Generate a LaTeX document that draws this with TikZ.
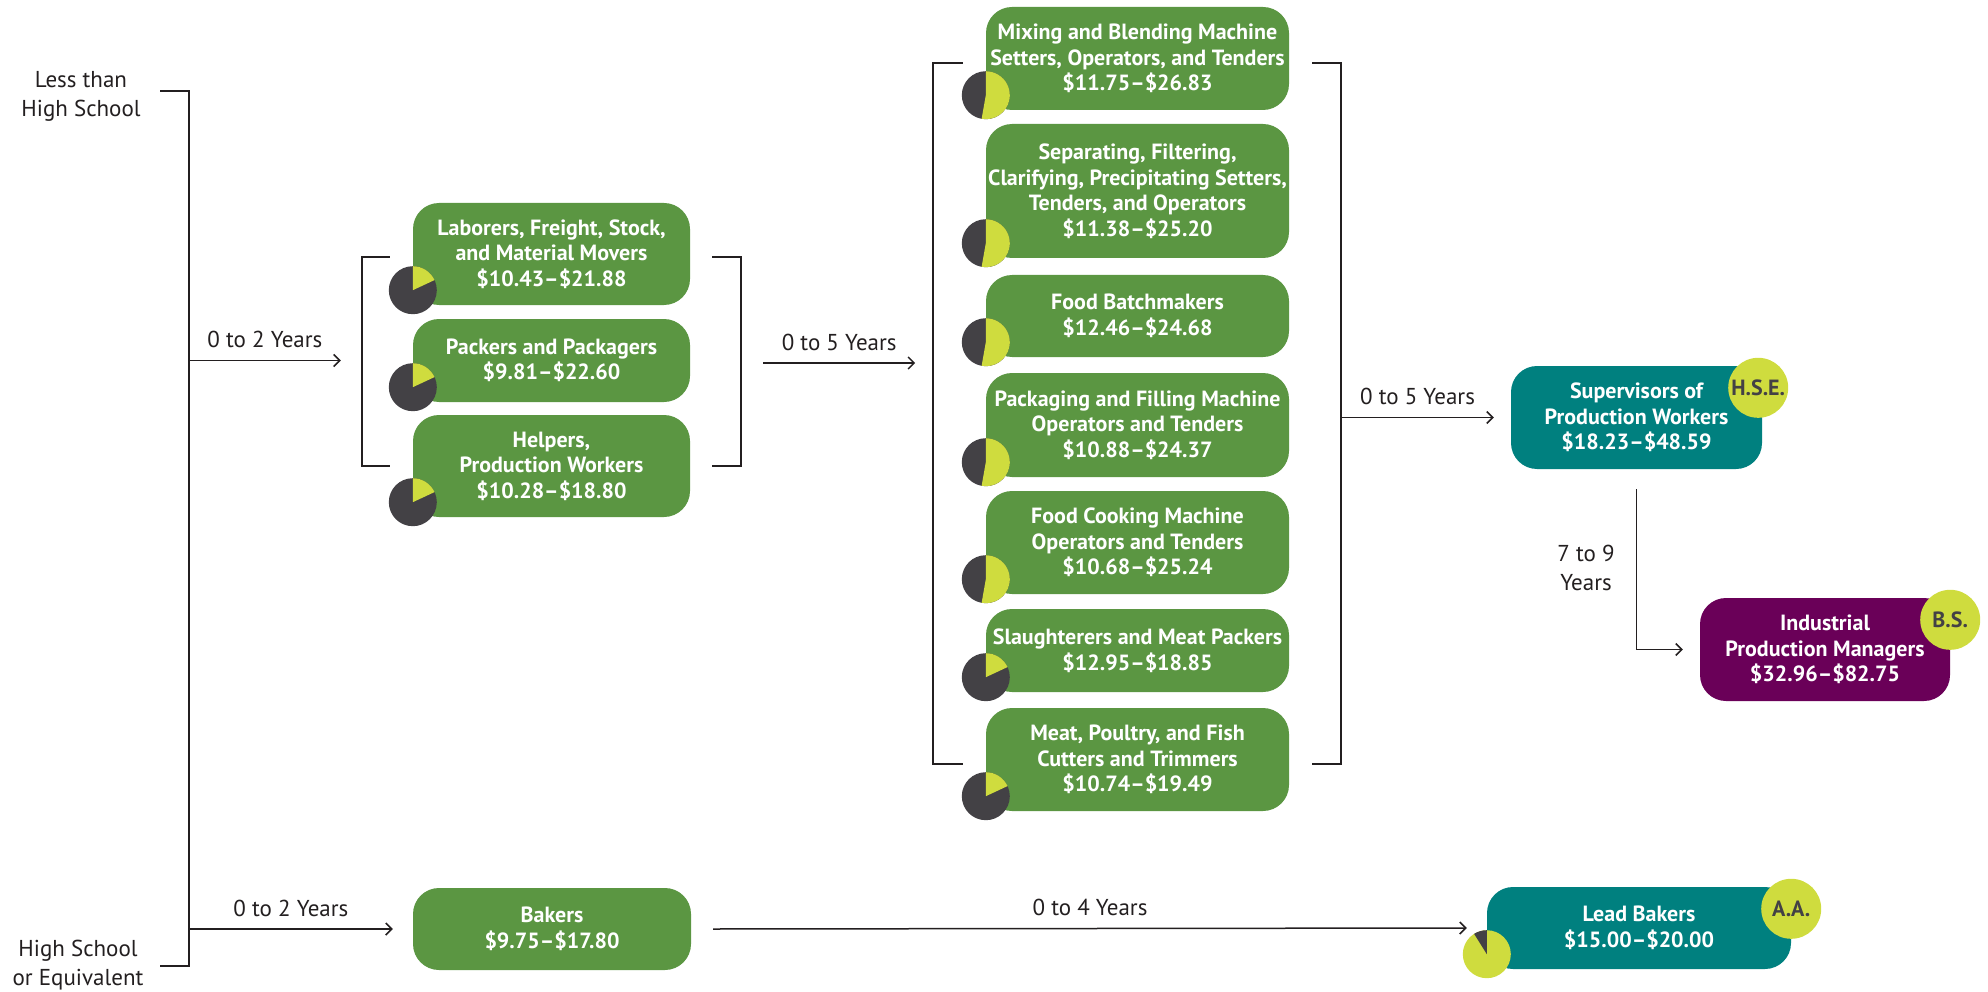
\documentclass[tikz,border=0pt]{standalone}
\usepackage{fontspec}
\setmainfont{PT Sans}
\usetikzlibrary{arrows.meta}
\definecolor{jobgreen}{HTML}{5B9642}
\definecolor{jobteal}{HTML}{00807F}
\definecolor{jobplum}{HTML}{6A0058}
\definecolor{lime}{HTML}{CFDC3E}
\definecolor{slate}{HTML}{434145}
\definecolor{ink}{HTML}{231F20}
\newcommand{\boxfont}{\fontsize{22}{25.5}\selectfont\bfseries}
\newcommand{\yrsfont}{\fontsize{23}{29}\selectfont}
\newcommand{\wagepie}[5]{%
	\fill[#2] ([yshift=15pt]#1.south west) circle (24pt);
	\fill[#3] ([yshift=15pt]#1.south west) -- ++(#4:24pt) arc (#4:#5:24pt) -- cycle;}

\begin{document}
\begin{tikzpicture}[x=1pt,y=1pt,
	job/.style={rectangle,rounded corners=26pt,fill=jobgreen,text=white,align=center,inner sep=0pt,font=\boxfont},
	badge/.style={circle,fill=lime,text=slate,inner sep=0pt,minimum size=60pt,font=\boxfont},
	edlabel/.style={text=ink,align=center,font=\yrsfont},
	yrs/.style={midway,anchor=base,yshift=13pt,text=ink,font=\yrsfont},
	conn/.style={ink,line width=1.5pt},
	tip/.style={-{Straight Barb[length=6pt,width=12pt]}}]
	\useasboundingbox (0,0) rectangle (1988,-992);

	\node[edlabel] (lths) at (81,-96) {Less than\\High School};
	\node[edlabel] (hsoe) at (78,-965) {High School\\or Equivalent};

	\node[job,minimum width=277pt,minimum height=102pt] (lab) at (551.5,-254) {Laborers, Freight, Stock,\\and Material Movers\\\$10.43–\$21.88};
	\node[job,minimum width=277pt,minimum height=83pt] (pkr) at (551.5,-360.5) {Packers and Packagers\\\$9.81–\$22.60};
	\node[job,minimum width=277pt,minimum height=102pt] (hlp) at (551.5,-466) {Helpers,\\Production Workers\\\$10.28–\$18.80};

	\node[job,minimum width=303pt,minimum height=103pt] (mix) at (1137.5,-58.5) {Mixing and Blending Machine\\Setters, Operators, and Tenders\\\$11.75–\$26.83};
	\node[job,minimum width=303pt,minimum height=134pt] (sep) at (1137.5,-191) {Separating, Filtering,\\Clarifying, Precipitating Setters,\\Tenders, and Operators\\\$11.38–\$25.20};
	\node[job,minimum width=303pt,minimum height=82pt] (bat) at (1137.5,-316) {Food Batchmakers\\\$12.46–\$24.68};
	\node[job,minimum width=303pt,minimum height=104pt] (pfm) at (1137.5,-425) {Packaging and Filling Machine\\Operators and Tenders\\\$10.88–\$24.37};
	\node[job,minimum width=303pt,minimum height=103pt] (fcm) at (1137.5,-542.5) {Food Cooking Machine\\Operators and Tenders\\\$10.68–\$25.24};
	\node[job,minimum width=303pt,minimum height=83pt] (slt) at (1137.5,-650.5) {Slaughterers and Meat Packers\\\$12.95–\$18.85};
	\node[job,minimum width=303pt,minimum height=103pt] (mpf) at (1137.5,-759.5) {Meat, Poultry, and Fish\\Cutters and Trimmers\\\$10.74–\$19.49};

	\node[job,fill=jobteal,minimum width=251pt,minimum height=103pt] (sup) at (1636.5,-417.5) {Supervisors of\\Production Workers\\\$18.23–\$48.59};
	\node[job,fill=jobplum,minimum width=250pt,minimum height=103pt] (ipm) at (1825,-649.5) {Industrial\\Production Managers\\\$32.96–\$82.75};
	\node[job,minimum width=278pt,minimum height=82pt] (bak) at (552,-929) {Bakers\\\$9.75–\$17.80};
	\node[job,fill=jobteal,minimum width=304pt,minimum height=82pt] (lead) at (1639,-928) {Lead Bakers\\\$15.00–\$20.00};

	\node[badge] (hsebadge) at ([xshift=-4pt,yshift=-22pt]sup.north east) {H.S.E.};
	\node[badge] (bsbadge) at ([yshift=-22pt]ipm.north east) {B.S.};
	\node[badge] (aabadge) at ([yshift=-22pt]lead.north east) {A.A.};

	\wagepie{lab}{slate}{lime}{25}{90}
	\wagepie{pkr}{slate}{lime}{25}{90}
	\wagepie{hlp}{slate}{lime}{25}{90}
	\foreach \j in {mix,sep,bat,pfm,fcm}
		{\wagepie{\j}{slate}{lime}{-100}{90}}
	\wagepie{slt}{slate}{lime}{25}{90}
	\wagepie{mpf}{slate}{lime}{25}{90}
	\wagepie{lead}{lime}{slate}{90}{122}

	\coordinate (edtop) at (189,-91);
	\coordinate (edbot) at (189,-966);
	\coordinate (g2r) at ([xshift=52pt]mix.east);
	\draw[conn] (160,-91) -- (edtop) -- (edbot) -- (160,-966);
	\draw[conn] ([xshift=-23pt,yshift=-3pt]lab.west) -- ([xshift=-51pt,yshift=-3pt]lab.west) -- ([xshift=-51pt]hlp.west) -- ([xshift=-23pt]hlp.west);
	\draw[conn] ([xshift=22pt,yshift=-3pt]lab.east) -- ([xshift=51pt,yshift=-3pt]lab.east) -- ([xshift=51pt]hlp.east) -- ([xshift=22pt]hlp.east);
	\draw[conn] ([xshift=-23pt,yshift=-4.5pt]mix.west) -- ([xshift=-53pt,yshift=-4.5pt]mix.west) -- ([xshift=-53pt,yshift=-4.5pt]mpf.west) -- ([xshift=-23pt,yshift=-4.5pt]mpf.west);
	\draw[conn] ([xshift=23pt,yshift=-4.5pt]mix.east) -- ([yshift=-4.5pt]g2r) -- ([xshift=52pt,yshift=-4.5pt]mpf.east) -- ([xshift=23pt,yshift=-4.5pt]mpf.east);

	\path[tip,conn]
		(edtop |- pkr.west) edge node[yrs] {0 to 2 Years} ([xshift=-72pt]pkr.west)
		([xshift=73pt,yshift=-2.5pt]pkr.east) edge node[yrs] {0 to 5 Years} ([xshift=225pt,yshift=-2.5pt]pkr.east)
		(g2r |- sup.west) edge node[yrs] {0 to 5 Years} ([xshift=-17pt]sup.west)
		(edtop |- bak.west) edge node[yrs] {0 to 2 Years} ([xshift=-20pt]bak.west)
		([xshift=22pt]bak.east) edge node[yrs] {0 to 4 Years} ([xshift=-20pt]lead.west);
	\draw[tip,conn] ([yshift=-20pt]sup.south) |- ([xshift=-17pt]ipm.west);
	\node[edlabel] (ytn) at (1586,-568) {7 to 9\\Years};
\end{tikzpicture}
\end{document}
